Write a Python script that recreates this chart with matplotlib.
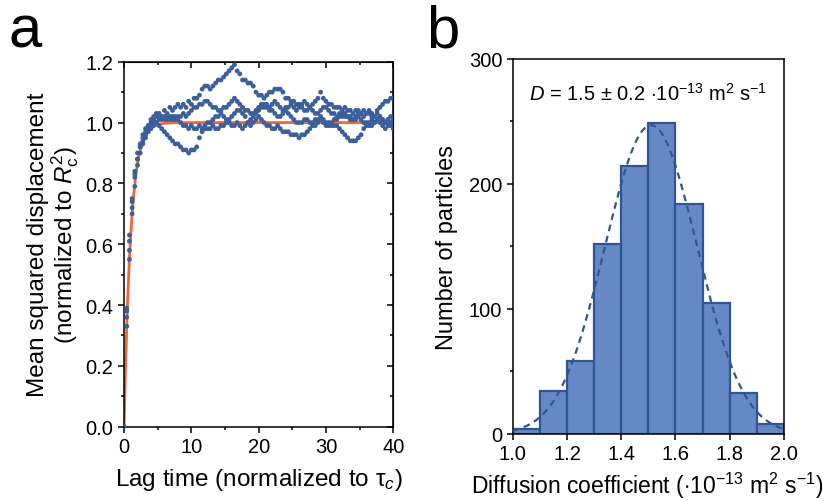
import numpy as np
import matplotlib
matplotlib.use("Agg")
import matplotlib.pyplot as plt
from matplotlib.ticker import MultipleLocator

plt.rcParams['font.family'] = ['Liberation Sans', 'DejaVu Sans']
plt.rcParams['mathtext.fontset'] = 'custom'
plt.rcParams['mathtext.rm'] = 'Liberation Sans'
plt.rcParams['mathtext.it'] = 'Liberation Sans:italic'
plt.rcParams['mathtext.bf'] = 'Liberation Sans:bold'

# ---- panel a: MSD traces (lag 0, 0.4, 0.8 ... 40) ----
lag_step = 0.4
msd_a = [0.0,
         0.36, 0.58, 0.72, 0.82, 0.88, 0.92, 0.95, 0.97, 0.99, 1.00,
         1.01, 1.02, 1.03, 1.02, 1.04, 1.03, 1.05, 1.04, 1.05, 1.06,
         1.05, 1.06, 1.05, 1.07, 1.06, 1.08, 1.08, 1.09, 1.11, 1.12,
         1.12, 1.11, 1.12, 1.13, 1.14, 1.14, 1.15, 1.16, 1.17, 1.18,
         1.19, 1.17, 1.16, 1.14, 1.14, 1.13, 1.13, 1.12, 1.10, 1.09,
         1.09, 1.08, 1.09, 1.10, 1.10, 1.11, 1.11, 1.11, 1.10, 1.08,
         1.08, 1.07, 1.07, 1.06, 1.06, 1.05, 1.04, 1.04, 1.05, 1.06,
         1.07, 1.08, 1.10, 1.08, 1.07, 1.06, 1.06, 1.05, 1.05, 1.05,
         1.04, 1.05, 1.04, 1.04, 1.03, 1.04, 1.04, 1.03, 1.04, 1.03,
         1.04, 1.03, 1.02, 1.04, 1.05, 1.06, 1.07, 1.07, 1.08, 1.08]
msd_b = [0.0,
         0.33, 0.55, 0.70, 0.79, 0.86, 0.90, 0.93, 0.95, 0.97, 0.98,
         0.99, 1.00, 0.99, 0.98, 0.97, 0.96, 0.95, 0.94, 0.93, 0.93,
         0.92, 0.91, 0.91, 0.90, 0.91, 0.91, 0.92, 0.95, 0.97, 0.98,
         0.98, 0.98, 0.99, 0.98, 0.98, 0.99, 0.99, 1.00, 1.01, 1.02,
         1.03, 1.04, 1.04, 1.03, 1.02, 1.00, 0.99, 1.00, 1.01, 1.02,
         1.01, 1.00, 0.99, 0.99, 0.98, 0.98, 0.99, 0.98, 0.97, 0.97,
         0.97, 0.96, 0.96, 0.96, 0.95, 0.96, 0.96, 0.97, 0.98, 0.99,
         0.99, 1.00, 1.01, 1.00, 0.99, 0.99, 1.00, 1.01, 1.01, 1.02,
         1.02, 1.03, 1.02, 1.02, 1.01, 1.01, 1.02, 1.01, 1.00, 1.00,
         0.99, 0.99, 1.00, 1.01, 1.00, 0.99, 0.98, 0.99, 0.99, 0.98]
msd_c = [0.0,
         0.38, 0.61, 0.74, 0.83, 0.88, 0.92, 0.94, 0.96, 0.98, 0.99,
         1.00, 1.00, 1.01, 1.02, 1.02, 1.01, 1.02, 1.02, 1.01, 1.02,
         1.02, 1.03, 1.02, 1.03, 1.04, 1.05, 1.05, 1.06, 1.06, 1.07,
         1.07, 1.06, 1.05, 1.05, 1.04, 1.04, 1.05, 1.05, 1.06, 1.07,
         1.08, 1.07, 1.06, 1.05, 1.04, 1.04, 1.03, 1.03, 1.04, 1.05,
         1.06, 1.06, 1.05, 1.04, 1.04, 1.03, 1.02, 1.02, 1.03, 1.04,
         1.03, 1.02, 1.01, 1.00, 1.00, 1.00, 1.01, 1.01, 1.00, 1.00,
         1.01, 1.01, 1.02, 1.01, 1.00, 1.00, 0.99, 0.99, 0.99, 0.98,
         0.97, 0.96, 0.95, 0.94, 0.94, 0.94, 0.95, 0.96, 0.98, 0.99,
         1.00, 1.01, 1.00, 1.01, 1.02, 1.01, 1.00, 1.01, 1.00, 1.01]
msd_d = [0.0,
         0.39, 0.63, 0.75, 0.84, 0.90, 0.93, 0.96, 0.98, 0.99, 1.01,
         1.02, 1.03, 1.02, 1.01, 1.01, 1.02, 1.01, 1.01, 1.02, 1.01,
         1.00, 0.99, 0.99, 0.98, 0.99, 0.98, 0.98, 0.99, 0.98, 0.99,
         1.00, 1.00, 1.01, 1.02, 1.02, 1.03, 1.02, 1.01, 1.00, 0.99,
         0.99, 1.00, 0.99, 0.98, 0.99, 1.00, 1.01, 1.02, 1.03, 1.04,
         1.05, 1.05, 1.06, 1.05, 1.06, 1.07, 1.06, 1.05, 1.04, 1.05,
         1.05, 1.06, 1.05, 1.04, 1.05, 1.06, 1.07, 1.06, 1.05, 1.04,
         1.03, 1.03, 1.04, 1.05, 1.05, 1.04, 1.03, 1.03, 1.02, 1.03,
         1.03, 1.02, 1.02, 1.01, 1.01, 1.02, 1.03, 1.03, 1.02, 1.03,
         1.03, 1.02, 1.02, 1.03, 1.02, 1.01, 1.00, 1.01, 1.02, 1.01]
traces = [msd_a, msd_b, msd_c, msd_d]
fit_tau = 1.0  # normalized confinement time

# ---- panel b: histogram ----
bin_left = [1.0, 1.1, 1.2, 1.3, 1.4, 1.5, 1.6, 1.7, 1.8, 1.9]
counts = [4, 34, 58, 152, 214, 249, 184, 105, 33, 8]
bin_width = 0.1
gauss_mean = 1.51
gauss_sigma = 0.17
gauss_amp = 247

dot_color = '#3b5f9b'
fit_color = '#f4623a'
bar_face = '#6689c6'
bar_edge = '#2f5592'

fig = plt.figure(figsize=(8.33, 5.02), dpi=100)
ax1 = fig.add_axes([0.1489, 0.148, 0.3233, 0.727])
ax2 = fig.add_axes([0.6155, 0.1335, 0.3257, 0.747])

# panel a
t_fit = np.linspace(0, 40, 800)
ax1.plot(t_fit, 1 - np.exp(-t_fit / fit_tau), color=fit_color, lw=2.0, zorder=2)
for tr in traces:
    lags = np.arange(len(tr)) * lag_step
    ax1.scatter(lags, tr, s=12, color=dot_color, edgecolors='none', zorder=3)
ax1.set_xlim(0, 40)
ax1.set_ylim(0, 1.2)
ax1.xaxis.set_major_locator(MultipleLocator(10))
ax1.xaxis.set_minor_locator(MultipleLocator(5))
ax1.yaxis.set_major_locator(MultipleLocator(0.2))
ax1.yaxis.set_minor_locator(MultipleLocator(0.1))
ax1.yaxis.set_major_formatter(plt.FormatStrFormatter('%.1f'))
ax1.tick_params(which='both', direction='out', top=False, right=False,
                width=1.1, labelsize=14.5)
ax1.tick_params(which='major', length=4)
ax1.tick_params(which='minor', length=2.5)
ax1.set_xlabel(r"Lag time (normalized to τ$_{c}$)", fontsize=17.5, labelpad=7)
ax1.set_ylabel("Mean squared displacement\n" + r"(normalized to $R_{\mathrm{c}}^{2}$)",
               fontsize=17.5, labelpad=3, linespacing=1.05)
# mirrored inward ticks on top and right
ax1t = ax1.secondary_xaxis('top')
ax1t.xaxis.set_major_locator(MultipleLocator(10))
ax1t.xaxis.set_minor_locator(MultipleLocator(5))
ax1t.tick_params(which='both', direction='in', labeltop=False, width=1.1)
ax1t.tick_params(which='major', length=4)
ax1t.tick_params(which='minor', length=2.5)
ax1r = ax1.secondary_yaxis('right')
ax1r.yaxis.set_major_locator(MultipleLocator(0.2))
ax1r.yaxis.set_minor_locator(MultipleLocator(0.1))
ax1r.tick_params(which='both', direction='in', labelright=False, width=1.1)
ax1r.tick_params(which='major', length=4)
ax1r.tick_params(which='minor', length=2.5)
for a in [ax1, ax2]:
    for sp in a.spines.values():
        sp.set_linewidth(1.1)

# panel b
ax2.bar(bin_left, counts, width=bin_width, align='edge', color=bar_face,
        edgecolor=bar_edge, linewidth=1.6, zorder=2)
x_g = np.linspace(1.0, 2.0, 400)
ax2.plot(x_g, gauss_amp * np.exp(-(x_g - gauss_mean) ** 2 / (2 * gauss_sigma ** 2)),
         color=bar_edge, lw=1.6, ls=(0, (3, 2.2)), zorder=3)
ax2.set_xlim(1.0, 2.0)
ax2.set_ylim(0, 300)
ax2.xaxis.set_major_locator(MultipleLocator(0.2))
ax2.xaxis.set_major_formatter(plt.FormatStrFormatter('%.1f'))
ax2.yaxis.set_major_locator(MultipleLocator(100))
ax2.yaxis.set_minor_locator(MultipleLocator(50))
ax2.tick_params(which='both', direction='out', width=1.1, labelsize=14.5)
ax2.tick_params(which='major', length=4)
ax2.tick_params(which='minor', length=2.5)
ax2.set_xlabel(r"Diffusion coefficient ($\cdot$10$^{-13}$ m$^{2}$ s$^{-1}$)",
               fontsize=16.5)
ax2.xaxis.set_label_coords(0.497, -0.095)
ax2.set_ylabel("Number of particles", fontsize=17, labelpad=8)
ax2.text(0.5, 0.91, r"$D$ = 1.5 ± 0.2 $\cdot$10$^{-13}$ m$^{2}$ s$^{-1}$",
         transform=ax2.transAxes, ha='center', va='center', fontsize=14.5)

fig.text(0.010, 0.905, 'a', fontsize=43, va='baseline')
fig.text(0.512, 0.905, 'b', fontsize=43, va='baseline')

fig.savefig('out.png', dpi=100)
